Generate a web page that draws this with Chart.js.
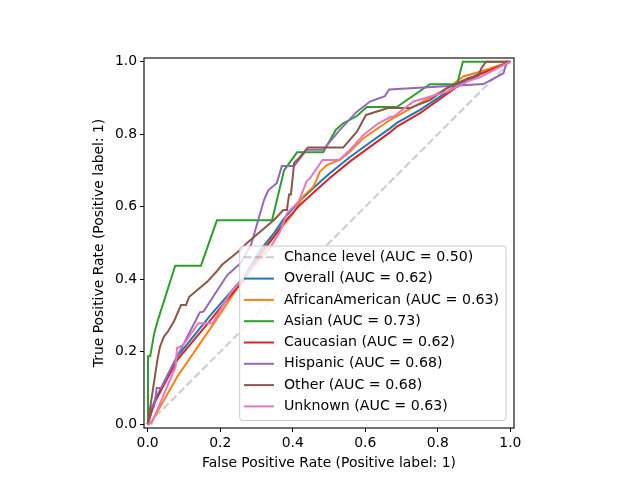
<!DOCTYPE html>
<html lang="en">

<head>
    <meta charset="UTF-8">
    <title>ROC curves</title>
    <style>
        body { margin: 0; background: #fff; }
    </style>
</head>

<body>
    <div style="width: 640px; height: 480px;">
        <canvas id="myChart" width="640" height="480"></canvas>
    </div>
    <script src="https://cdn.jsdelivr.net/npm/chart.js"></script>
    <script>
        // values
        const tickValues = [0, 0.2, 0.4, 0.6, 0.8, 1.0];

        const chanceLabel = 'Chance level (AUC = 0.50)';
        const chanceFpr = [0, 1];
        const chanceTpr = [0, 1];

        const groupNames = ['Overall', 'AfricanAmerican', 'Asian', 'Caucasian', 'Hispanic', 'Other', 'Unknown'];
        const groupAuc = ['0.62', '0.63', '0.73', '0.62', '0.68', '0.68', '0.63'];
        const groupColors = ['#1f77b4', '#ff7f0e', '#2ca02c', '#d62728', '#9467bd', '#8c564b', '#e377c2'];

        const overallFpr = [0, 0.018, 0.08, 0.17, 0.21, 0.266, 0.31, 0.349, 0.374, 0.42, 0.475, 0.503, 0.558, 0.613, 0.668, 0.687, 0.751, 0.834, 0.852, 0.916, 1];
        const overallTpr = [0, 0.062, 0.185, 0.297, 0.343, 0.407, 0.48, 0.528, 0.565, 0.617, 0.668, 0.693, 0.737, 0.777, 0.816, 0.831, 0.867, 0.922, 0.935, 0.968, 1];

        const africanFpr = [0, 0.009, 0.082, 0.183, 0.25, 0.35, 0.40, 0.43, 0.457, 0.475, 0.494, 0.53, 0.558, 0.595, 0.668, 0.742, 0.834, 0.87, 0.916, 1];
        const africanTpr = [0, 0.003, 0.132, 0.279, 0.38, 0.52, 0.58, 0.63, 0.655, 0.697, 0.715, 0.729, 0.752, 0.789, 0.839, 0.881, 0.931, 0.959, 0.972, 1];

        const asianFpr = [0, 0.001, 0.007, 0.018, 0.026, 0.076, 0.147, 0.191, 0.343, 0.376, 0.412, 0.484, 0.519, 0.539, 0.577, 0.604, 0.687, 0.778, 0.853, 0.869, 1];
        const asianTpr = [0, 0.1875, 0.1875, 0.25, 0.28, 0.4375, 0.4375, 0.5625, 0.5625, 0.70, 0.75, 0.75, 0.8125, 0.83, 0.85, 0.875, 0.875, 0.9375, 0.9375, 1, 1];

        const caucasianFpr = [0, 0.018, 0.082, 0.174, 0.211, 0.266, 0.31, 0.349, 0.374, 0.42, 0.475, 0.503, 0.558, 0.613, 0.668, 0.687, 0.751, 0.834, 0.852, 0.916, 1];
        const caucasianTpr = [0, 0.058, 0.178, 0.288, 0.334, 0.398, 0.47, 0.518, 0.554, 0.605, 0.655, 0.680, 0.725, 0.765, 0.805, 0.821, 0.858, 0.917, 0.930, 0.965, 1];

        const hispanicFpr = [0, 0.009, 0.018, 0.025, 0.037, 0.062, 0.144, 0.154, 0.219, 0.256, 0.285, 0.321, 0.333, 0.356, 0.370, 0.404, 0.438, 0.484, 0.530, 0.577, 0.613, 0.654, 0.666, 0.926, 0.981, 0.990, 1];
        const hispanicTpr = [0, 0.049, 0.049, 0.10, 0.10, 0.149, 0.309, 0.311, 0.411, 0.444, 0.495, 0.619, 0.646, 0.665, 0.712, 0.712, 0.757, 0.757, 0.812, 0.862, 0.890, 0.905, 0.923, 0.938, 0.968, 1, 1];

        const otherFpr = [0, 0.027, 0.034, 0.045, 0.056, 0.073, 0.092, 0.106, 0.114, 0.164, 0.189, 0.205, 0.246, 0.274, 0.349, 0.374, 0.384, 0.390, 0.395, 0.404, 0.417, 0.442, 0.539, 0.577, 0.602, 0.663, 0.723, 0.778, 0.825, 0.883, 0.911, 0.921, 0.933, 1];
        const otherTpr = [0, 0.178, 0.214, 0.242, 0.256, 0.285, 0.329, 0.329, 0.351, 0.393, 0.420, 0.440, 0.473, 0.500, 0.564, 0.591, 0.591, 0.634, 0.634, 0.721, 0.734, 0.763, 0.763, 0.807, 0.853, 0.872, 0.872, 0.894, 0.927, 0.954, 0.961, 0.983, 1, 1];

        const unknownFpr = [0, 0.011, 0.077, 0.081, 0.098, 0.140, 0.179, 0.227, 0.337, 0.365, 0.384, 0.416, 0.439, 0.448, 0.482, 0.528, 0.558, 0.595, 0.636, 0.671, 0.677, 0.733, 0.825, 0.880, 0.916, 1];
        const unknownTpr = [0, 0.003, 0.159, 0.210, 0.219, 0.279, 0.279, 0.361, 0.486, 0.531, 0.582, 0.614, 0.671, 0.679, 0.729, 0.729, 0.757, 0.798, 0.830, 0.848, 0.848, 0.890, 0.917, 0.945, 0.957, 1];

        const groupFpr = [overallFpr, africanFpr, asianFpr, caucasianFpr, hispanicFpr, otherFpr, unknownFpr];
        const groupTpr = [overallTpr, africanTpr, asianTpr, caucasianTpr, hispanicTpr, otherTpr, unknownTpr];

        function toPoints(xs, ys) {
            return xs.map((x, i) => ({ x: x, y: ys[i] }));
        }

        let v_datasets = [{
            label: chanceLabel,
            data: toPoints(chanceFpr, chanceTpr),
            borderColor: 'rgba(0,0,0,0.2)',
            borderDash: [7.7, 3.3],
            borderWidth: 2,
            order: 20
        }];
        for (let i = 0; i < groupNames.length; i++) {
            v_datasets.push({
                label: groupNames[i] + ' (AUC = ' + groupAuc[i] + ')',
                data: toPoints(groupFpr[i], groupTpr[i]),
                borderColor: groupColors[i],
                borderWidth: 2,
                order: groupNames.length - i
            });
        }

        // axes frame + matplotlib style legend in the lower right corner
        const frameAndLegend = {
            id: 'frameAndLegend',
            afterDatasetsDraw(chart) {
                const ctx = chart.ctx;
                const a = chart.chartArea;
                ctx.save();
                ctx.strokeStyle = '#000';
                ctx.lineWidth = 1.1;
                ctx.strokeRect(a.left, a.top, a.right - a.left, a.bottom - a.top);

                ctx.font = '14.2px "DejaVu Sans"';
                const sets = chart.data.datasets;
                let maxW = 0;
                sets.forEach(d => { maxW = Math.max(maxW, ctx.measureText(d.label).width); });
                const w = 44.3 + maxW + 7;
                const rowH = 21.3;
                const h = 174.5;
                const x0 = a.right - 8 - w;
                const y0 = a.bottom - 7.5 - h;

                ctx.beginPath();
                ctx.roundRect(x0, y0, w, h, 3);
                ctx.fillStyle = 'rgba(255,255,255,0.8)';
                ctx.fill();
                ctx.strokeStyle = '#cccccc';
                ctx.lineWidth = 1;
                ctx.stroke();

                sets.forEach((d, i) => {
                    const cy = y0 + 11.3 + i * rowH;
                    ctx.beginPath();
                    ctx.setLineDash(d.borderDash || []);
                    ctx.strokeStyle = d.borderColor;
                    ctx.lineWidth = 2;
                    ctx.moveTo(x0 + 4.3, cy);
                    ctx.lineTo(x0 + 34.3, cy);
                    ctx.stroke();
                    ctx.setLineDash([]);
                    ctx.fillStyle = '#000';
                    ctx.textBaseline = 'middle';
                    ctx.fillText(d.label, x0 + 44.3, cy);
                });
                ctx.restore();
            }
        };

        Chart.defaults.font.family = '"DejaVu Sans"';
        Chart.defaults.font.size = 13.9;
        Chart.defaults.color = '#000';

        const ctx = document.getElementById('myChart');
        const myChart = new Chart(ctx, {
            type: 'line',
            data: { datasets: v_datasets },
            options: {
                responsive: false,
                animation: false,
                layout: { padding: { left: 0, right: 126, top: 58, bottom: 0 } },
                elements: {
                    point: { radius: 0 },
                    line: { tension: 0, fill: false }
                },
                plugins: {
                    legend: { display: false },
                    tooltip: { enabled: false }
                },
                scales: {
                    x: {
                        type: 'linear',
                        min: -0.01,
                        max: 1.01,
                        afterFit: s => { s.height = 52; },
                        afterBuildTicks: s => { s.ticks = tickValues.map(v => ({ value: v })); },
                        ticks: { padding: 3, callback: v => v.toFixed(1), maxRotation: 0 },
                        grid: { drawOnChartArea: false, drawTicks: true, tickLength: 4, color: '#000' },
                        border: { display: false },
                        title: {
                            display: true,
                            text: 'False Positive Rate (Positive label: 1)',
                            padding: { top: 0, bottom: 8.7 }
                        }
                    },
                    y: {
                        type: 'linear',
                        min: -0.01,
                        max: 1.01,
                        afterFit: s => { s.width = 144; },
                        afterBuildTicks: s => { s.ticks = tickValues.map(v => ({ value: v })); },
                        ticks: { padding: 3, callback: v => v.toFixed(1) },
                        grid: { drawOnChartArea: false, drawTicks: true, tickLength: 4, color: '#000' },
                        border: { display: false },
                        title: {
                            display: true,
                            text: 'True Positive Rate (Positive label: 1)',
                            padding: { top: 90.7, bottom: 0 }
                        }
                    }
                }
            },
            plugins: [frameAndLegend]
        });
    </script>
</body>

</html>
